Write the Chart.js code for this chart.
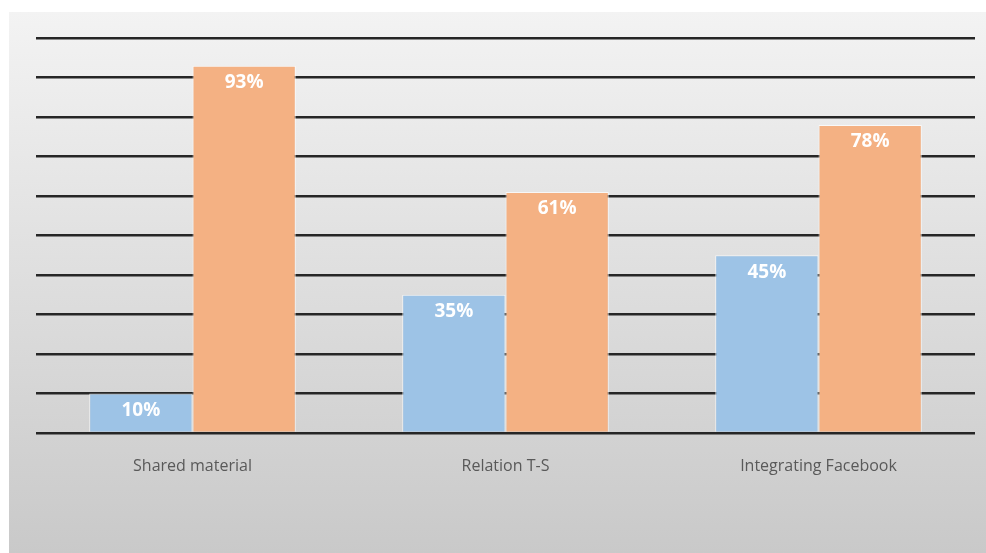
<!DOCTYPE html>
<html>
<head>
<meta charset="utf-8">
<script src="https://cdn.jsdelivr.net/npm/chart.js@4.4.1/dist/chart.umd.min.js"></script>
<style>
  html, body { margin: 0; padding: 0; background: #fff; }
  #wrap { width: 986px; height: 553px; }
</style>
</head>
<body>
<div id="wrap"><canvas id="myChart"></canvas></div>
<script>
const categories = ['Shared material', 'Relation T-S', 'Integrating Facebook'];
const series1 = [10, 35, 45];
const series2 = [93, 61, 78];
const yTicks = [0, 10, 20, 30, 40, 50, 60, 70, 80, 90, 100];

// gray gradient panel behind the chart
const panelBg = {
    id: 'panelBg',
    beforeDraw(chart) {
        const c = chart.ctx;
        c.save();
        c.fillStyle = '#ffffff';
        c.fillRect(0, 0, chart.width, chart.height);
        const g = c.createLinearGradient(0, 12, 0, chart.height);
        g.addColorStop(0, '#f3f3f3');
        g.addColorStop(1, '#c9c9c9');
        c.fillStyle = g;
        c.fillRect(9, 12, chart.width - 9, chart.height - 12);
        c.restore();
    }
};

// white value labels inside the top of each bar
const barLabels = {
    id: 'barLabels',
    afterDatasetsDraw(chart) {
        const c = chart.ctx;
        c.save();
        c.font = 'bold 19px "Open Sans", sans-serif';
        c.fillStyle = '#ffffff';
        c.textAlign = 'center';
        c.textBaseline = 'middle';
        chart.data.datasets.forEach((ds, i) => {
            chart.getDatasetMeta(i).data.forEach((bar, j) => {
                c.fillText(ds.data[j] + '%', bar.x, bar.y + 17);
            });
        });
        c.restore();
    }
};

const ctx = document.getElementById('myChart');

new Chart(ctx, {
    type: 'bar',
    data: {
        labels: categories,
        datasets: [
            {
                label: 'Series 1',
                data: series1,
                backgroundColor: '#9dc3e6',
                borderColor: 'rgba(255,255,255,0.7)',
                borderWidth: 1,
            },
            {
                label: 'Series 2',
                data: series2,
                backgroundColor: '#f4b183',
                borderColor: 'rgba(255,255,255,0.7)',
                borderWidth: 1,
            }
        ]
    },
    options: {
        responsive: true,
        maintainAspectRatio: false,
        animation: false,
        layout: {
            padding: { left: 36, right: 11, top: 38, bottom: 0 }
        },
        plugins: {
            legend: { display: false },
            tooltip: { enabled: false }
        },
        datasets: {
            bar: { categoryPercentage: 0.66, barPercentage: 1 }
        },
        scales: {
            x: {
                grid: { display: false, drawTicks: false },
                border: { display: false },
                ticks: {
                    color: '#595959',
                    padding: 24,
                    font: { family: '"Open Sans", sans-serif', size: 16 }
                },
                afterFit(scale) { scale.height = 120; }
            },
            y: {
                min: 0,
                max: 100,
                afterBuildTicks(scale) { scale.ticks = yTicks.map(v => ({ value: v })); },
                ticks: { display: false },
                grid: { color: '#262626', lineWidth: 2.5, drawTicks: false },
                border: { display: false }
            }
        }
    },
    plugins: [panelBg, barLabels]
});
</script>
</body>
</html>
